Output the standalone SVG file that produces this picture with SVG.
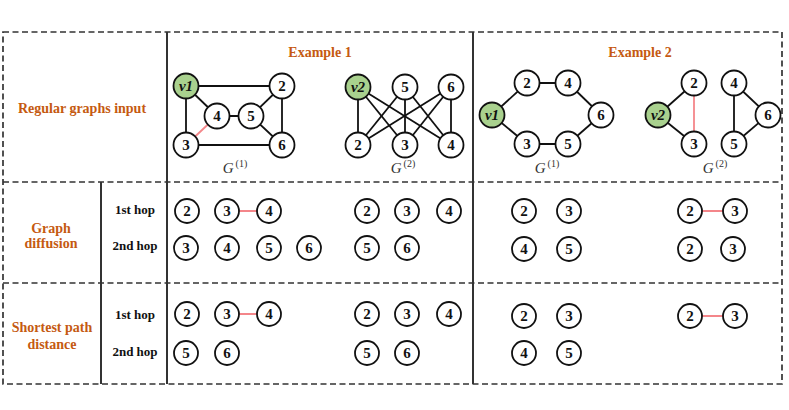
<svg xmlns="http://www.w3.org/2000/svg" width="789" height="410" viewBox="0 0 789 410">
<style>
.frame{fill:none;stroke:#333;stroke-width:1.7;stroke-dasharray:6 3.5}
.dash{stroke:#333;stroke-width:1.7;stroke-dasharray:6 3.5}
.solid{stroke:#333;stroke-width:2}
.e{stroke:#111;stroke-width:1.8}
.r{stroke:#F4868A;stroke-width:1.8}
.n circle{fill:#fff;stroke:#111;stroke-width:1.8}
.n circle.g{fill:#A9D18E}
.n text{font-family:"Liberation Serif",serif;font-weight:bold;font-size:15px;fill:#111;text-anchor:middle}
.n text.v{font-style:italic;font-size:15px}
.h{font-family:"Liberation Serif",serif;font-weight:bold;font-size:14px;fill:#C55A11;text-anchor:middle}
.hop{font-family:"Liberation Serif",serif;font-weight:bold;font-size:13px;fill:#111;text-anchor:middle}
.gl{font-family:"Liberation Serif",serif;font-style:italic;font-size:15px;fill:#333;text-anchor:middle}
.sup{font-style:normal;font-size:10px}
</style>
<rect id="frame" class="frame" x="3" y="32" width="779" height="352"/>
<g id="grid">
<line class="dash" x1="3" y1="182" x2="782" y2="182"/>
<line class="dash" x1="3" y1="283" x2="782" y2="283"/>
<line class="solid" x1="167" y1="32" x2="167" y2="384"/>
<line class="solid" x1="473" y1="32" x2="473" y2="384"/>
<line class="solid" x1="101" y1="182" x2="101" y2="384"/>
</g>
<g id="labels">
<text class="h" x="82" y="113">Regular graphs input</text>
<text class="h" x="320" y="57">Example 1</text>
<text class="h" x="640" y="57">Example 2</text>
<text class="h" x="51" y="233">Graph</text>
<text class="h" x="51" y="248">diffusion</text>
<text class="h" x="52" y="332">Shortest path</text>
<text class="h" x="52" y="349">distance</text>
<text class="hop" x="135" y="214">1st hop</text>
<text class="hop" x="135" y="250">2nd hop</text>
<text class="hop" x="135" y="319">1st hop</text>
<text class="hop" x="135" y="356">2nd hop</text>
<text class="gl" x="235" y="173">G<tspan class="sup" dx="2" dy="-6">(1)</tspan></text>
<text class="gl" x="403" y="173">G<tspan class="sup" dx="2" dy="-6">(2)</tspan></text>
<text class="gl" x="547" y="173">G<tspan class="sup" dx="2" dy="-6">(1)</tspan></text>
<text class="gl" x="715" y="173">G<tspan class="sup" dx="2" dy="-6">(2)</tspan></text>
</g>
<g id="connectors">
<line class="e" x1="186" y1="86" x2="282" y2="86"/>
<line class="e" x1="186" y1="86" x2="186" y2="145"/>
<line class="e" x1="186" y1="86" x2="217" y2="116"/>
<line class="e" x1="217" y1="116" x2="251" y2="116"/>
<line class="e" x1="251" y1="116" x2="282" y2="86"/>
<line class="e" x1="251" y1="116" x2="282" y2="145"/>
<line class="e" x1="282" y1="86" x2="282" y2="145"/>
<line class="e" x1="186" y1="145" x2="282" y2="145"/>
<line class="r" x1="186" y1="145" x2="217" y2="116"/>
<line class="e" x1="358" y1="87" x2="358" y2="145"/>
<line class="e" x1="358" y1="87" x2="405" y2="145"/>
<line class="e" x1="358" y1="87" x2="451" y2="145"/>
<line class="e" x1="405" y1="87" x2="358" y2="145"/>
<line class="e" x1="405" y1="87" x2="405" y2="145"/>
<line class="e" x1="405" y1="87" x2="451" y2="145"/>
<line class="e" x1="451" y1="87" x2="358" y2="145"/>
<line class="e" x1="451" y1="87" x2="405" y2="145"/>
<line class="e" x1="451" y1="87" x2="451" y2="145"/>
<line class="e" x1="492" y1="115" x2="527" y2="83"/>
<line class="e" x1="527" y1="83" x2="568" y2="83"/>
<line class="e" x1="568" y1="83" x2="601" y2="115"/>
<line class="e" x1="601" y1="115" x2="568" y2="144"/>
<line class="e" x1="568" y1="144" x2="527" y2="144"/>
<line class="e" x1="527" y1="144" x2="492" y2="115"/>
<line class="e" x1="658" y1="115" x2="694" y2="83"/>
<line class="e" x1="658" y1="115" x2="694" y2="144"/>
<line class="r" x1="694" y1="83" x2="694" y2="144"/>
<line class="e" x1="734" y1="83" x2="734" y2="144"/>
<line class="e" x1="734" y1="83" x2="768" y2="115"/>
<line class="e" x1="768" y1="115" x2="734" y2="144"/>
<line class="r" x1="227" y1="211" x2="269" y2="211"/>
<line class="r" x1="690" y1="211" x2="735" y2="211"/>
<line class="r" x1="227" y1="314" x2="269" y2="314"/>
<line class="r" x1="690" y1="316" x2="735" y2="316"/>
</g>
<g id="e1g1-v1" class="n"><circle class="g" cx="186" cy="86" r="12.5"/><text class="v" x="186" y="91">v1</text></g>
<g id="e1g1-2" class="n"><circle cx="282" cy="86" r="12.5"/><text x="282" y="91">2</text></g>
<g id="e1g1-4" class="n"><circle cx="217" cy="116" r="12.5"/><text x="217" y="121">4</text></g>
<g id="e1g1-5" class="n"><circle cx="251" cy="116" r="12.5"/><text x="251" y="121">5</text></g>
<g id="e1g1-3" class="n"><circle cx="186" cy="145" r="12.5"/><text x="186" y="150">3</text></g>
<g id="e1g1-6" class="n"><circle cx="282" cy="145" r="12.5"/><text x="282" y="150">6</text></g>
<g id="e1g2-v2" class="n"><circle class="g" cx="358" cy="87" r="12.5"/><text class="v" x="358" y="92">v2</text></g>
<g id="e1g2-5" class="n"><circle cx="405" cy="87" r="12.5"/><text x="405" y="92">5</text></g>
<g id="e1g2-6" class="n"><circle cx="451" cy="87" r="12.5"/><text x="451" y="92">6</text></g>
<g id="e1g2-2" class="n"><circle cx="358" cy="145" r="12.5"/><text x="358" y="150">2</text></g>
<g id="e1g2-3" class="n"><circle cx="405" cy="145" r="12.5"/><text x="405" y="150">3</text></g>
<g id="e1g2-4" class="n"><circle cx="451" cy="145" r="12.5"/><text x="451" y="150">4</text></g>
<g id="e2g1-2" class="n"><circle cx="527" cy="83" r="12.5"/><text x="527" y="88">2</text></g>
<g id="e2g1-4" class="n"><circle cx="568" cy="83" r="12.5"/><text x="568" y="88">4</text></g>
<g id="e2g1-v1" class="n"><circle class="g" cx="492" cy="115" r="12.5"/><text class="v" x="492" y="120">v1</text></g>
<g id="e2g1-6" class="n"><circle cx="601" cy="115" r="12.5"/><text x="601" y="120">6</text></g>
<g id="e2g1-3" class="n"><circle cx="527" cy="144" r="12.5"/><text x="527" y="149">3</text></g>
<g id="e2g1-5" class="n"><circle cx="568" cy="144" r="12.5"/><text x="568" y="149">5</text></g>
<g id="e2g2-2" class="n"><circle cx="694" cy="83" r="12.5"/><text x="694" y="88">2</text></g>
<g id="e2g2-v2" class="n"><circle class="g" cx="658" cy="115" r="12.5"/><text class="v" x="658" y="120">v2</text></g>
<g id="e2g2-3" class="n"><circle cx="694" cy="144" r="12.5"/><text x="694" y="149">3</text></g>
<g id="e2g2-4" class="n"><circle cx="734" cy="83" r="12.5"/><text x="734" y="88">4</text></g>
<g id="e2g2-6" class="n"><circle cx="768" cy="115" r="12.5"/><text x="768" y="120">6</text></g>
<g id="e2g2-5" class="n"><circle cx="734" cy="144" r="12.5"/><text x="734" y="149">5</text></g>
<g id="gd1-e1-2" class="n"><circle cx="187" cy="211" r="12"/><text x="187" y="216">2</text></g>
<g id="gd1-e1-3" class="n"><circle cx="227" cy="211" r="12"/><text x="227" y="216">3</text></g>
<g id="gd1-e1-4" class="n"><circle cx="269" cy="211" r="12"/><text x="269" y="216">4</text></g>
<g id="gd1-e1b-2" class="n"><circle cx="367" cy="211" r="12"/><text x="367" y="216">2</text></g>
<g id="gd1-e1b-3" class="n"><circle cx="407" cy="211" r="12"/><text x="407" y="216">3</text></g>
<g id="gd1-e1b-4" class="n"><circle cx="449" cy="211" r="12"/><text x="449" y="216">4</text></g>
<g id="gd1-e2-2" class="n"><circle cx="524" cy="211" r="12"/><text x="524" y="216">2</text></g>
<g id="gd1-e2-3" class="n"><circle cx="569" cy="211" r="12"/><text x="569" y="216">3</text></g>
<g id="gd1-e2b-2" class="n"><circle cx="690" cy="211" r="12"/><text x="690" y="216">2</text></g>
<g id="gd1-e2b-3" class="n"><circle cx="735" cy="211" r="12"/><text x="735" y="216">3</text></g>
<g id="gd2-e1-3" class="n"><circle cx="186" cy="248" r="12"/><text x="186" y="253">3</text></g>
<g id="gd2-e1-4" class="n"><circle cx="227" cy="248" r="12"/><text x="227" y="253">4</text></g>
<g id="gd2-e1-5" class="n"><circle cx="269" cy="248" r="12"/><text x="269" y="253">5</text></g>
<g id="gd2-e1-6" class="n"><circle cx="309" cy="248" r="12"/><text x="309" y="253">6</text></g>
<g id="gd2-e1b-5" class="n"><circle cx="367" cy="248" r="12"/><text x="367" y="253">5</text></g>
<g id="gd2-e1b-6" class="n"><circle cx="407" cy="248" r="12"/><text x="407" y="253">6</text></g>
<g id="gd2-e2-4" class="n"><circle cx="524" cy="249" r="12"/><text x="524" y="254">4</text></g>
<g id="gd2-e2-5" class="n"><circle cx="569" cy="249" r="12"/><text x="569" y="254">5</text></g>
<g id="gd2-e2b-2" class="n"><circle cx="690" cy="249" r="12"/><text x="690" y="254">2</text></g>
<g id="gd2-e2b-3" class="n"><circle cx="733" cy="249" r="12"/><text x="733" y="254">3</text></g>
<g id="sp1-e1-2" class="n"><circle cx="187" cy="314" r="12"/><text x="187" y="319">2</text></g>
<g id="sp1-e1-3" class="n"><circle cx="227" cy="314" r="12"/><text x="227" y="319">3</text></g>
<g id="sp1-e1-4" class="n"><circle cx="269" cy="314" r="12"/><text x="269" y="319">4</text></g>
<g id="sp1-e1b-2" class="n"><circle cx="367" cy="314" r="12"/><text x="367" y="319">2</text></g>
<g id="sp1-e1b-3" class="n"><circle cx="407" cy="314" r="12"/><text x="407" y="319">3</text></g>
<g id="sp1-e1b-4" class="n"><circle cx="449" cy="314" r="12"/><text x="449" y="319">4</text></g>
<g id="sp1-e2-2" class="n"><circle cx="524" cy="316" r="12"/><text x="524" y="321">2</text></g>
<g id="sp1-e2-3" class="n"><circle cx="569" cy="316" r="12"/><text x="569" y="321">3</text></g>
<g id="sp1-e2b-2" class="n"><circle cx="690" cy="316" r="12"/><text x="690" y="321">2</text></g>
<g id="sp1-e2b-3" class="n"><circle cx="735" cy="316" r="12"/><text x="735" y="321">3</text></g>
<g id="sp2-e1-5" class="n"><circle cx="186" cy="353" r="12"/><text x="186" y="358">5</text></g>
<g id="sp2-e1-6" class="n"><circle cx="227" cy="353" r="12"/><text x="227" y="358">6</text></g>
<g id="sp2-e1b-5" class="n"><circle cx="367" cy="353" r="12"/><text x="367" y="358">5</text></g>
<g id="sp2-e1b-6" class="n"><circle cx="407" cy="353" r="12"/><text x="407" y="358">6</text></g>
<g id="sp2-e2-4" class="n"><circle cx="524" cy="353" r="12"/><text x="524" y="358">4</text></g>
<g id="sp2-e2-5" class="n"><circle cx="569" cy="353" r="12"/><text x="569" y="358">5</text></g>
</svg>
